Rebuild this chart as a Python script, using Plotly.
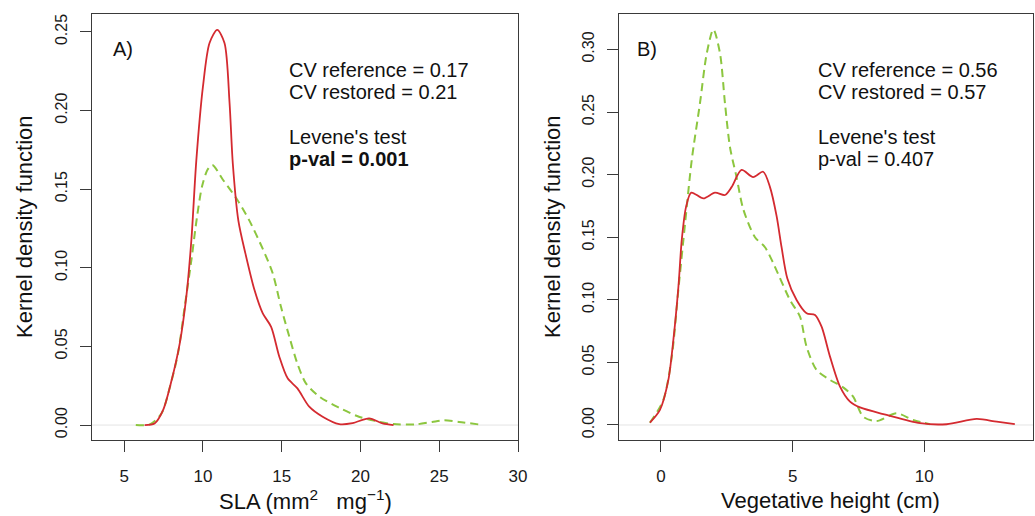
import plotly.graph_objects as go

# ---------------- data ----------------
# Panel A: SLA
sla_ref_x = [6.3, 6.93, 7.47, 8.0, 8.53, 8.95, 9.27, 9.58, 10.0, 10.42, 10.91, 11.37, 11.69, 11.9,
             12.25, 12.7, 13.27, 13.8, 14.33, 14.85, 15.38, 16.0, 16.75, 17.6, 18.65, 19.5, 20.55, 21.4, 22.1]
sla_ref_y = [0.0, 0.001, 0.0095, 0.028, 0.052, 0.082, 0.118, 0.168, 0.215, 0.243, 0.2513, 0.243, 0.205, 0.166,
             0.130, 0.109, 0.086, 0.071, 0.0625, 0.0435, 0.0297, 0.0233, 0.0117, 0.0053, 0.0006, 0.0012, 0.0043, 0.001, 0.0]
sla_res_x = [5.74, 6.63, 7.37, 7.9, 8.42, 8.84, 9.27, 9.62, 9.95, 10.3, 10.6, 11.27, 12.2, 12.95, 13.8, 14.43,
             14.96, 15.49, 16.0, 16.54, 17.4, 18.65, 19.9, 21.2, 22.1, 23.5, 24.55, 25.3, 26.25, 27.5]
sla_res_y = [0.0, 0.0004, 0.0074, 0.024, 0.0456, 0.075, 0.105, 0.132, 0.152, 0.1625, 0.1654, 0.156, 0.143, 0.130,
             0.112, 0.0965, 0.075, 0.056, 0.039, 0.0265, 0.018, 0.011, 0.0053, 0.0021, 0.0006, 0.0004, 0.002, 0.003,
             0.002, 0.0004]

# Panel B: vegetative height
veg_ref_x = [-0.42, -0.04, 0.28, 0.47, 0.66, 0.79, 0.95, 1.15, 1.61, 2.05, 2.43, 2.68, 3.06, 3.5, 3.88, 4.14,
             4.39, 4.58, 4.8, 5.15, 5.53, 5.85, 6.1, 6.42, 6.8, 7.18, 7.56, 8.57, 9.84, 10.85, 11.99, 12.75, 13.44]
veg_ref_y = [0.0018, 0.012, 0.036, 0.068, 0.110, 0.148, 0.174, 0.1856, 0.181, 0.1856, 0.1837, 0.190, 0.2037, 0.198,
             0.2023, 0.190, 0.167, 0.142, 0.117, 0.0998, 0.0892, 0.0879, 0.0785, 0.0546, 0.0306, 0.0186, 0.014,
             0.008, 0.0014, 0.0006, 0.0048, 0.0026, 0.0006]
veg_res_x = [-0.42, 0.09, 0.41, 0.66, 0.91, 1.17, 1.48, 1.74, 1.99, 2.24, 2.43, 2.62, 2.87, 3.13, 3.57, 3.95,
             4.27, 4.9, 5.28, 5.53, 5.91, 6.42, 6.92, 7.3, 7.68, 8.19, 8.95, 9.58, 10.22]
veg_res_y = [0.0018, 0.020, 0.0546, 0.108, 0.160, 0.212, 0.257, 0.297, 0.316, 0.297, 0.257, 0.222, 0.198, 0.172,
             0.150, 0.142, 0.129, 0.0998, 0.0865, 0.0625, 0.0439, 0.036, 0.030, 0.0226, 0.0066, 0.0032, 0.0093,
             0.004, 0.0006]

a_xticks = [5, 10, 15, 20, 25, 30]
b_xticks = [0, 5, 10]
a_yticks = [0.0, 0.05, 0.10, 0.15, 0.20, 0.25]
b_yticks = [0.0, 0.05, 0.10, 0.15, 0.20, 0.25, 0.30]

a_text = ["CV reference = 0.17", "CV restored = 0.21", "Levene's test", "<b>p-val = 0.001</b>"]
b_text = ["CV reference = 0.56", "CV restored = 0.57", "Levene's test", "p-val = 0.407"]

# ---------------- styling ----------------
W, H = 1035, 516
RED = "#d42a30"
GREEN = "#8cc63f"
AX = "#3a3a3a"
FONT = "Liberation Sans, Arial, sans-serif"


def px_x(p):
    return p / W


def px_y(p):
    return 1 - p / H


fig = go.Figure()

fig.add_trace(go.Scatter(x=sla_res_x, y=sla_res_y, mode="lines", xaxis="x", yaxis="y",
                         line=dict(color=GREEN, width=2, dash="8px,5px", shape="spline", smoothing=0.8),
                         showlegend=False))
fig.add_trace(go.Scatter(x=sla_ref_x, y=sla_ref_y, mode="lines", xaxis="x", yaxis="y",
                         line=dict(color=RED, width=1.8, shape="spline", smoothing=0.8), showlegend=False))
fig.add_trace(go.Scatter(x=veg_res_x, y=veg_res_y, mode="lines", xaxis="x2", yaxis="y2",
                         line=dict(color=GREEN, width=2, dash="8px,5px", shape="spline", smoothing=0.8),
                         showlegend=False))
fig.add_trace(go.Scatter(x=veg_ref_x, y=veg_ref_y, mode="lines", xaxis="x2", yaxis="y2",
                         line=dict(color=RED, width=1.8, shape="spline", smoothing=0.8), showlegend=False))

ydom = [px_y(440), px_y(14)]
common_axis = dict(showline=True, mirror=True, linecolor=AX, linewidth=1.2, ticks="outside",
                   ticklen=11, tickcolor=AX, tickwidth=1.2, showgrid=False, zeroline=False,
                   automargin=False)
xfont = dict(family=FONT, size=17, color="#1a1a1a")
yfont = dict(family=FONT, size=16, color="#1a1a1a")

fig.update_layout(
    width=W, height=H, margin=dict(l=0, r=0, t=0, b=0),
    paper_bgcolor="white", plot_bgcolor="white",
    font=dict(family=FONT, color="#1a1a1a"),
    xaxis=dict(domain=[px_x(92), px_x(518)], range=[2.96, 30.0], anchor="y", tickfont=xfont,
               tickvals=a_xticks, ticktext=[str(v) for v in a_xticks], ticklabelstandoff=9, **common_axis),
    yaxis=dict(domain=ydom, range=[-0.0095, 0.2614], anchor="x", tickfont=yfont,
               tickvals=a_yticks, ticktext=["%.2f" % v for v in a_yticks], tickangle=-90,
               ticklabelstandoff=7, **common_axis),
    xaxis2=dict(domain=[px_x(619), px_x(1033)], range=[-1.595, 14.13], anchor="y2", tickfont=xfont,
                tickvals=b_xticks, ticktext=[str(v) for v in b_xticks], ticklabelstandoff=9, **common_axis),
    yaxis2=dict(domain=ydom, range=[-0.012, 0.3283], anchor="x2", tickfont=yfont,
                tickvals=b_yticks, ticktext=["%.2f" % v for v in b_yticks], tickangle=-90,
                ticklabelstandoff=7, **common_axis),
)

# zero reference lines
for xr, yr in (("x", "y"), ("x2", "y2")):
    fig.add_shape(type="line", xref=xr + " domain", yref=yr, x0=0, x1=1, y0=0, y1=0,
                  line=dict(color="#e4e4e4", width=1), layer="below")

ann = []
tf = dict(family=FONT, size=20, color="#111111")
ann.append(dict(text="A)", x=px_x(111), y=px_y(49), xanchor="left", yanchor="middle"))
ann.append(dict(text="B)", x=px_x(635), y=px_y(49), xanchor="left", yanchor="middle"))
line_y = [70, 92, 137, 159]
for t, yy in zip(a_text, line_y):
    ann.append(dict(text=t, x=px_x(287), y=px_y(yy), xanchor="left", yanchor="middle"))
for t, yy in zip(b_text, line_y):
    ann.append(dict(text=t, x=px_x(816), y=px_y(yy), xanchor="left", yanchor="middle"))

title_font = dict(family=FONT, size=22, color="#111111")
annotations = [dict(a, xref="paper", yref="paper", showarrow=False, font=tf) for a in ann]
annotations += [
    dict(text="Kernel density function", x=px_x(24), y=px_y(227), xref="paper", yref="paper",
         textangle=-90, showarrow=False, font=title_font, xanchor="center", yanchor="middle"),
    dict(text="Kernel density function", x=px_x(552), y=px_y(227), xref="paper", yref="paper",
         textangle=-90, showarrow=False, font=title_font, xanchor="center", yanchor="middle"),
    dict(text="SLA (mm<sup>2</sup>   mg<sup>\u22121</sup>)", x=px_x(305), y=px_y(500), xref="paper",
         yref="paper", showarrow=False, font=title_font, xanchor="center", yanchor="middle"),
    dict(text="Vegetative height (cm)", x=px_x(830), y=px_y(500), xref="paper", yref="paper",
         showarrow=False, font=title_font, xanchor="center", yanchor="middle"),
]
fig.update_layout(annotations=annotations)

fig.write_html("out.html")
